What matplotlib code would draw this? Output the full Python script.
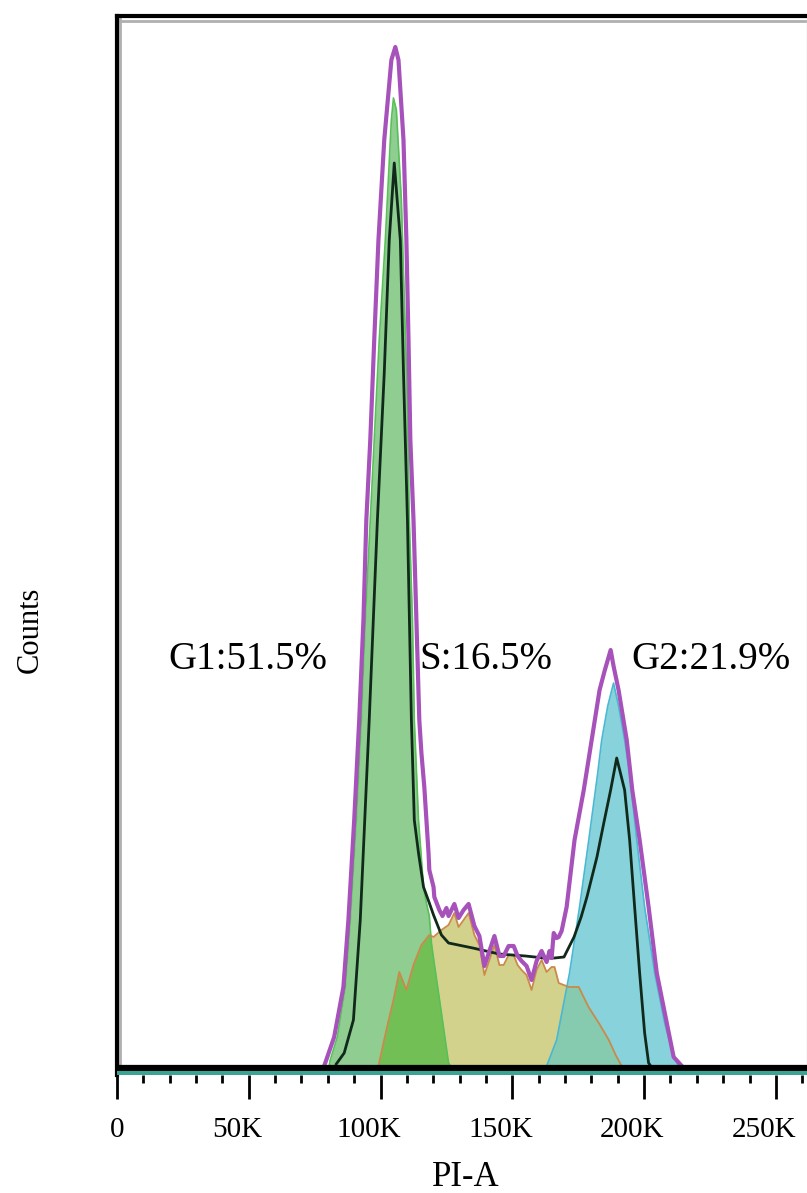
import numpy as np
import matplotlib
matplotlib.use("Agg")
from matplotlib import pyplot as plt
from matplotlib.ticker import MultipleLocator, FuncFormatter
from matplotlib.transforms import ScaledTranslation

plt.rcParams['font.family'] = ['Liberation Serif', 'DejaVu Serif']

# PI-A in thousands, counts
total_x = [78.6, 79.4, 82.4, 85.9, 87.8, 90.0, 91.9, 93.5, 94.6, 96.1, 97.6, 99.2, 101.4,
           104.1, 105.6, 106.8, 108.7, 109.8, 110.6, 111.3, 112.5, 113.6, 114.7, 115.5,
           116.6, 117.4, 118.2, 118.5, 120.1, 120.4, 122.3, 123.5, 125.0, 125.8, 128.0,
           129.6, 131.5, 133.4, 135.6, 137.5, 139.4, 141.3, 143.2, 145.1, 146.7, 148.6,
           150.5, 152.0, 153.5, 155.4, 157.3, 159.2, 161.1, 163.0, 164.1, 164.9, 165.7,
           166.8, 167.6, 168.7, 170.6, 173.6, 177.1, 180.1, 183.1, 185.0,
           187.3, 188.4, 190.3, 193.4, 195.5, 198.3, 201.7, 204.8, 208.6, 211.2, 214.3]
total_y = [0, 6, 29, 79, 146, 246, 346, 446, 546, 626, 726, 826, 926,
           1006, 1019, 1006, 926, 826, 726, 626, 546, 446, 346, 313,
           279, 246, 213, 196, 179, 169, 156, 150, 158, 150, 162,
           148, 156, 162, 140, 130, 100, 115, 130, 110, 110, 120,
           120, 110, 105, 100, 86, 105, 115, 104, 115, 108, 133,
           128, 129, 135, 159, 226, 276, 326, 376, 395,
           416, 400, 376, 326, 276, 226, 159, 93, 43, 9, 0]

g1_x = [80.5, 80.9, 83.6, 86.6, 88.5, 90.8, 92.7, 94.2, 96.1, 97.6, 99.5, 101.8, 104.1,
        104.9, 106.0, 107.9, 109.0, 110.2, 110.9, 112.1, 112.8, 114.4, 116.3, 117.4,
        118.5, 119.3, 120.4, 123.1, 125.8, 126.5]
g1_y = [0, 6, 29, 79, 146, 246, 346, 446, 546, 626, 726, 826, 946,
        968, 956, 866, 766, 666, 546, 446, 346, 246, 179, 163,
        150, 123, 102, 53, 3, 0]

s_x = [99.2, 102.2, 104.9, 107.1, 109.8, 112.5, 115.5, 118.5, 120.1, 123.1, 125.8, 128.0,
       129.6, 131.5, 133.4, 135.6, 137.5, 139.4, 141.3, 143.2, 145.1, 146.7, 148.6,
       150.5, 152.0, 153.5, 155.4, 157.3, 159.2, 161.1, 163.0, 164.9, 166.0, 167.6,
       171.4, 175.2, 178.9, 182.8, 186.6, 189.2, 191.5]
s_y = [0, 36, 66, 94, 76, 101, 121, 131, 129, 136, 141, 153,
       139, 146, 153, 131, 121, 91, 106, 121, 101, 101, 111,
       111, 101, 96, 91, 76, 96, 106, 94, 99, 99, 83,
       79, 79, 59, 43, 26, 11, 0]

g2_x = [163.0, 166.8, 171.7, 175.5, 179.0, 182.4, 183.9, 186.2, 188.4, 190.3, 192.6,
        194.5, 197.2, 200.2, 204.0, 207.8, 211.2, 213.1]
g2_y = [0, 26, 93, 159, 226, 293, 326, 360, 383, 360, 326, 293, 226, 159, 93, 43, 9, 0]

fit_x = [83.2, 86.2, 89.7, 92.3, 95.7, 98.8, 101.4, 103.3, 105.2, 107.5, 108.7, 110.2,
         111.7, 112.8, 114.4, 116.3, 118.5, 120.1, 123.1, 125.8, 135.0, 145.0, 155.0,
         162.0, 166.0, 169.6, 173.4, 176.1, 178.3, 182.1, 184.7, 187.3, 189.6, 192.6,
         194.5, 196.4, 198.3, 200.2, 201.7, 202.5]
fit_y = [2, 13, 46, 146, 346, 546, 693, 826, 903, 826, 693, 546,
         346, 246, 213, 179, 163, 151, 131, 123, 118, 112, 110,
         108, 108, 109, 129, 149, 169, 209, 243, 276, 308, 276,
         226, 159, 93, 33, 3, 0]

labels = ["G1:51.5%", "S:16.5%", "G2:21.9%"]
label_x = [49.8, 139.8, 225.3]
label_y = 406

fig = plt.figure(figsize=(8.07, 11.93), dpi=100)
ax = fig.add_axes([117 / 807, 1 - 1075 / 1193, 1 - 117 / 807, (1075 - 16) / 1193])

k = 1000.0
sx, sy = np.array(s_x) * k, np.array(s_y)
s_fill = ax.fill_between(sx, 0, sy, color='#d3d28c', lw=0, zorder=1)
g1_fill = ax.fill_between(np.array(g1_x) * k, 0, g1_y, color='#8fcd90', lw=0, zorder=2)
g2_fill = ax.fill_between(np.array(g2_x) * k, 0, g2_y, color='#88d2dc', lw=0, zorder=2)

# S overlapping the G1 / G2 peaks
ov1 = ax.fill_between(sx, 0, sy, color='#72c055', lw=0, zorder=3)
ov1.set_clip_path(g1_fill.get_paths()[0], ax.transData)
ov2 = ax.fill_between(sx, 0, sy, color='#86cbb0', lw=0, zorder=3)
ov2.set_clip_path(g2_fill.get_paths()[0], ax.transData)

ax.plot(np.array(g1_x) * k, g1_y, color='#58c058', lw=1.2, zorder=4)
ax.plot(np.array(g2_x) * k, g2_y, color='#49b8d2', lw=1.2, zorder=4)
ax.plot(sx, sy, color='#c98a4a', lw=1.3, zorder=4)
ax.plot(np.array(fit_x) * k, fit_y, color='#10291a', lw=2, zorder=5)
ax.plot(np.array(total_x) * k, total_y, color='#a752bb', lw=3, zorder=6)

ax.axhline(-2, color='black', lw=4.5, zorder=7)
ax.axhline(-7, color='#3aa394', lw=3, zorder=7)

for t, x in zip(labels, label_x):
    ax.text(x * k, label_y, t, fontsize=28, ha='center', va='center', zorder=8)

ax.set_xlim(0, 261800)
ax.set_ylim(-9, 1050)
ax.set_yticks([])
ax.xaxis.set_major_locator(MultipleLocator(50000))
ax.xaxis.set_minor_locator(MultipleLocator(10000))
ax.xaxis.set_major_formatter(FuncFormatter(lambda v, p: '0' if v == 0 else '%dK' % (v / 1000)))
ax.tick_params(axis='x', which='major', direction='out', length=17, width=2, labelsize=21, pad=13)
ax.tick_params(axis='x', which='minor', direction='out', length=6, width=2)

# labels in the original sit a little left of their ticks
fig.canvas.draw()
shift = ScaledTranslation(-12 / 100, 0, fig.dpi_scale_trans)
for lab in ax.get_xticklabels():
    if lab.get_text() not in ('', '0'):
        lab.set_transform(lab.get_transform() + shift)

ax.spines['bottom'].set_visible(False)
ax.spines['left'].set_linewidth(3)
ax.spines['top'].set_linewidth(3)
ax.spines['right'].set_color('#dddddd')
ax.spines['right'].set_linewidth(1)
ax.axvline(1200, color='#b0b0b0', lw=2, zorder=0.5)
ax.axhline(1045, color='#b0b0b0', lw=2, zorder=0.5)

fig.text(466 / 807, 1 - 1177 / 1193, 'PI-A', fontsize=25, ha='center', va='center')
fig.text(30 / 807, 1 - 630 / 1193, 'Counts', fontsize=22, rotation=90, ha='center', va='center')

fig.savefig('out.png', dpi=100)
